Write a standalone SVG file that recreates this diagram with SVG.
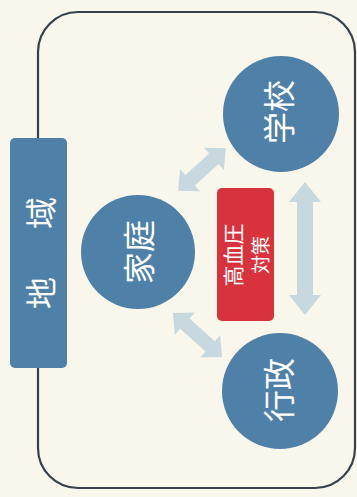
<svg xmlns="http://www.w3.org/2000/svg" width="357" height="497" viewBox="0 0 357 497">
<style>
.bg{fill:#f9f6ec}
.frame{fill:none;stroke:#34424c;stroke-width:2.2}
.node{fill:#4f80a8}
.red{fill:#d8333d}
.arr{fill:#c7d8de}
.t{font-family:"Noto Sans CJK JP","Noto Sans CJK SC",sans-serif;fill:#ffffff;text-anchor:middle;dominant-baseline:central}
.big{font-size:32px}
.mid{font-size:21px}
.sm{font-size:19px}
</style>
<rect class="bg" x="0" y="0" width="357" height="497"/>
<rect class="frame" x="38" y="12" width="317" height="476" rx="40" ry="40"/>
<g id="connectors">
  <path class="arr" transform="translate(202,169.5) rotate(-41.9)" d="M-32,0 L-16,-15 L-16,-7 L16,-7 L16,-15 L32,0 L16,15 L16,7 L-16,7 L-16,15 Z"/>
  <path class="arr" transform="translate(197.5,335) rotate(41.9)" d="M-33,0 L-17,-15 L-17,-7 L17,-7 L17,-15 L33,0 L17,15 L17,7 L-17,7 L-17,15 Z"/>
  <path class="arr" transform="translate(305,248.5) rotate(90)" d="M-66.5,0 L-46.5,-16 L-46.5,-8 L46.5,-8 L46.5,-16 L66.5,0 L46.5,16 L46.5,8 L-46.5,8 L-46.5,16 Z"/>
</g>
<g id="chiiki">
  <rect class="node" x="10" y="138" width="57" height="230" rx="5" ry="5"/>
  <text class="t big" transform="translate(39,293) rotate(-90)">地</text>
  <text class="t big" transform="translate(39,213) rotate(-90)">域</text>
</g>
<g id="gakko">
  <circle class="node" cx="281" cy="114" r="58"/>
  <text class="t big" transform="translate(277,112) rotate(-90)">学校</text>
</g>
<g id="katei">
  <circle class="node" cx="138" cy="252" r="57"/>
  <text class="t big" transform="translate(137,252) rotate(-90)">家庭</text>
</g>
<g id="gyosei">
  <circle class="node" cx="280" cy="391" r="58"/>
  <text class="t big" transform="translate(277,390) rotate(-90)">行政</text>
</g>
<g id="kouketsuatsu">
  <rect class="red" x="217" y="188" width="57" height="133" rx="5" ry="5"/>
  <text class="t mid" transform="translate(232,255) rotate(-90)">高血圧</text>
  <text class="t sm" transform="translate(259,255) rotate(-90)">対策</text>
</g>
</svg>
